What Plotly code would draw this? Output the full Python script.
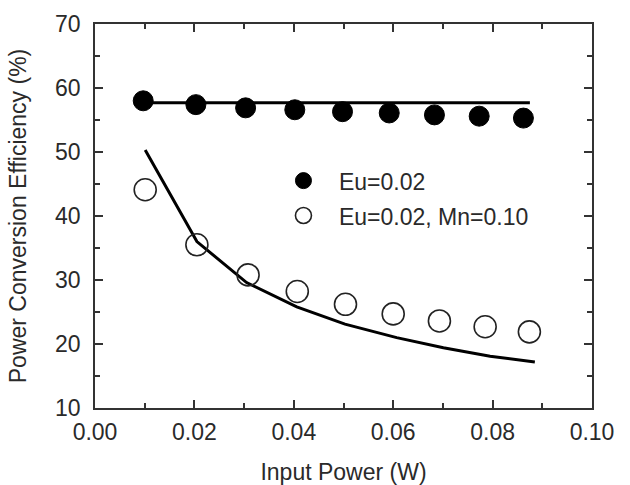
import plotly.graph_objects as go

# Eu=0.02 (filled)
x_eu = [0.0097, 0.0203, 0.0303, 0.0402, 0.0498, 0.0592, 0.0683, 0.0773, 0.0862]
y_eu = [58.0, 57.4, 56.9, 56.6, 56.3, 56.1, 55.8, 55.6, 55.3]
# fit line for Eu=0.02
x_eu_fit = [0.0097, 0.0875]
y_eu_fit = [57.7, 57.7]

# Eu=0.02, Mn=0.10 (open)
x_mn = [0.0101, 0.0205, 0.0308, 0.0407, 0.0504, 0.0600, 0.0693, 0.0785, 0.0874]
y_mn = [44.1, 35.5, 30.8, 28.2, 26.2, 24.7, 23.6, 22.7, 21.9]
# fit curve for Eu=0.02, Mn=0.10
x_mn_fit = [0.0101, 0.0205, 0.0305, 0.0406, 0.0503, 0.0607, 0.0701, 0.0795, 0.0885]
y_mn_fit = [50.3, 36.0, 29.6, 25.8, 23.1, 21.0, 19.4, 18.1, 17.2]

font = "Liberation Sans, Arial, sans-serif"
ink = "#2a2a2a"
fs = 23

fig = go.Figure()
fig.add_trace(go.Scatter(x=x_eu_fit, y=y_eu_fit, mode="lines",
                         line=dict(color="black", width=3), showlegend=False))
fig.add_trace(go.Scatter(x=x_mn_fit, y=y_mn_fit, mode="lines",
                         line=dict(color="black", width=3), showlegend=False))
fig.add_trace(go.Scatter(x=x_eu, y=y_eu, mode="markers", name="Eu=0.02",
                         legendgroup="a",
                         marker=dict(symbol="circle", size=20, color="black",
                                     line=dict(color="black", width=1))))
fig.add_trace(go.Scatter(x=x_mn, y=y_mn, mode="markers", name="Eu=0.02, Mn=0.10",
                         legendgroup="b",
                         marker=dict(symbol="circle-open", size=22, color="#222222",
                                     line=dict(width=1.6))))

axis_common = dict(
    showline=True, linecolor="#333333", linewidth=1.8, mirror="ticks",
    ticks="inside", ticklen=8, tickwidth=1.5, tickcolor="#333333",
    showgrid=False, zeroline=False, automargin=False,
    tickfont=dict(family=font, size=fs, color=ink),
)

fig.update_layout(
    width=630, height=485,
    margin=dict(l=95, r=38, t=24, b=77),
    paper_bgcolor="white", plot_bgcolor="white",
    font=dict(family=font, color=ink),
    xaxis=dict(range=[0, 0.1], tickvals=[0, 0.02, 0.04, 0.06, 0.08, 0.1],
               tickformat=".2f", ticklabelstandoff=2,
               minor=dict(ticks="inside", ticklen=5, tickwidth=1.5,
                          tickcolor="#333333", dtick=0.01, showgrid=False),
               title=dict(text="Input Power (W)", font=dict(family=font, size=fs, color=ink),
                          standoff=20),
               **axis_common),
    yaxis=dict(range=[10, 70], dtick=10, ticklabelstandoff=8,
               minor=dict(ticks="inside", ticklen=5, tickwidth=1.5,
                          tickcolor="#333333", dtick=5, showgrid=False),
               title=dict(text="Power Conversion Efficiency (%)",
                          font=dict(family=font, size=fs, color=ink), standoff=22),
               **axis_common),
    legend=dict(x=0.348, y=0.648, xanchor="left", yanchor="top",
                bgcolor="rgba(0,0,0,0)", font=dict(family=font, size=fs, color=ink),
                tracegroupgap=2, itemsizing="trace", itemwidth=61),
)

fig.write_html("out.html")
